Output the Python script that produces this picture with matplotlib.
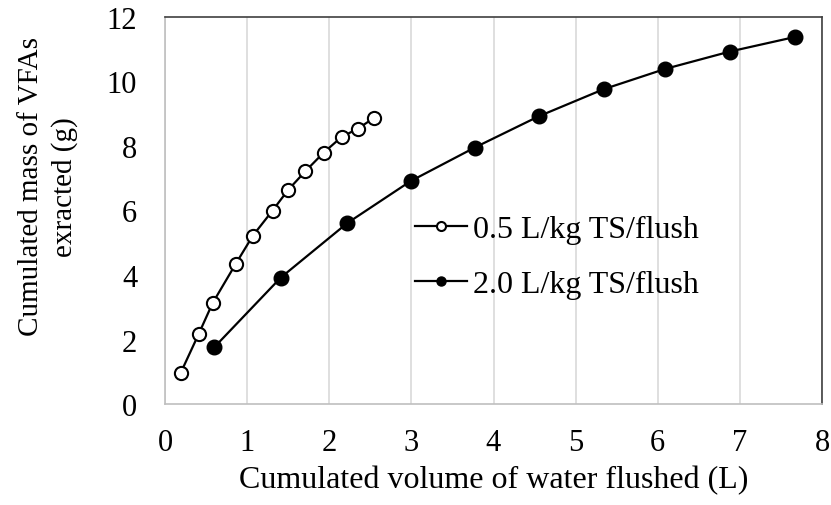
#!/usr/bin/env python3
"""Cumulated mass of VFAs extracted vs cumulated volume of water flushed."""

import matplotlib
matplotlib.use("Agg")
import matplotlib.pyplot as plt

# --- Data --------------------------------------------------------------------

VOL_05 = [0.19, 0.41, 0.58, 0.86, 1.07, 1.31, 1.50, 1.71, 1.93, 2.15, 2.35, 2.55]
MASS_05 = [0.96, 2.17, 3.13, 4.34, 5.22, 6.00, 6.64, 7.22, 7.79, 8.28, 8.54, 8.88]

VOL_20 = [0.60, 1.41, 2.22, 2.99, 3.77, 4.55, 5.34, 6.09, 6.88, 7.67]
MASS_20 = [1.76, 3.92, 5.61, 6.91, 7.95, 8.92, 9.76, 10.39, 10.93, 11.38]

LABEL_05 = "0.5 L/kg TS/flush"
LABEL_20 = "2.0 L/kg TS/flush"

X_TICKS = [0, 1, 2, 3, 4, 5, 6, 7, 8]
Y_TICKS = [0, 2, 4, 6, 8, 10, 12]

# --- Plot --------------------------------------------------------------------

plt.rcParams["font.family"] = ["Liberation Serif", "DejaVu Serif"]
plt.rcParams["font.size"] = 22

W, H = 831, 506
fig = plt.figure(figsize=(W / 100, H / 100), dpi=100)
ax = fig.add_axes([165 / W, 1 - 405 / H, (822 - 165) / W, (405 - 18) / H])

ax.plot(VOL_05, MASS_05, color="black", lw=1.6, marker="o", ms=9.5,
        mfc="white", mec="black", mew=1.5, label=LABEL_05, zorder=3)
ax.plot(VOL_20, MASS_20, color="black", lw=1.6, marker="o", ms=10.5,
        mfc="black", mec="black", mew=1.0, label=LABEL_20, zorder=3)

ax.set_xlim(0, 8)
ax.set_ylim(0, 12)
ax.set_xticks(X_TICKS)
ax.set_yticks(Y_TICKS)
ax.tick_params(length=0, labelsize=22)
ax.tick_params(axis="x", pad=17)
ax.tick_params(axis="y", pad=20)
ax.grid(axis="x", color="#d9d9d9", lw=1.2)
ax.set_axisbelow(True)

for side in ("left", "bottom"):
    ax.spines[side].set_color("#bfbfbf")
    ax.spines[side].set_linewidth(1.2)
for side in ("top", "right"):
    ax.spines[side].set_color("#404040")
    ax.spines[side].set_linewidth(1.2)

leg = ax.legend(loc="upper left", bbox_to_anchor=(415 / W, 1 - 216 / H),
                bbox_transform=fig.transFigure, frameon=False, fontsize=23,
                borderpad=0, borderaxespad=0, handlelength=1.63,
                handletextpad=0.19, labelspacing=0.8)
for h in leg.legend_handles:
    h.set_markersize(6.5)

fig.text(493.5 / W, 1 - 488 / H, "Cumulated volume of water flushed (L)",
         ha="center", va="baseline", fontsize=23)
fig.text(48 / W, 1 - 187 / H, "Cumulated mass of VFAs\nexracted (g)",
         ha="center", va="center", rotation=90, multialignment="center",
         fontsize=21, linespacing=1.3)

fig.savefig("out.png", dpi=100)
